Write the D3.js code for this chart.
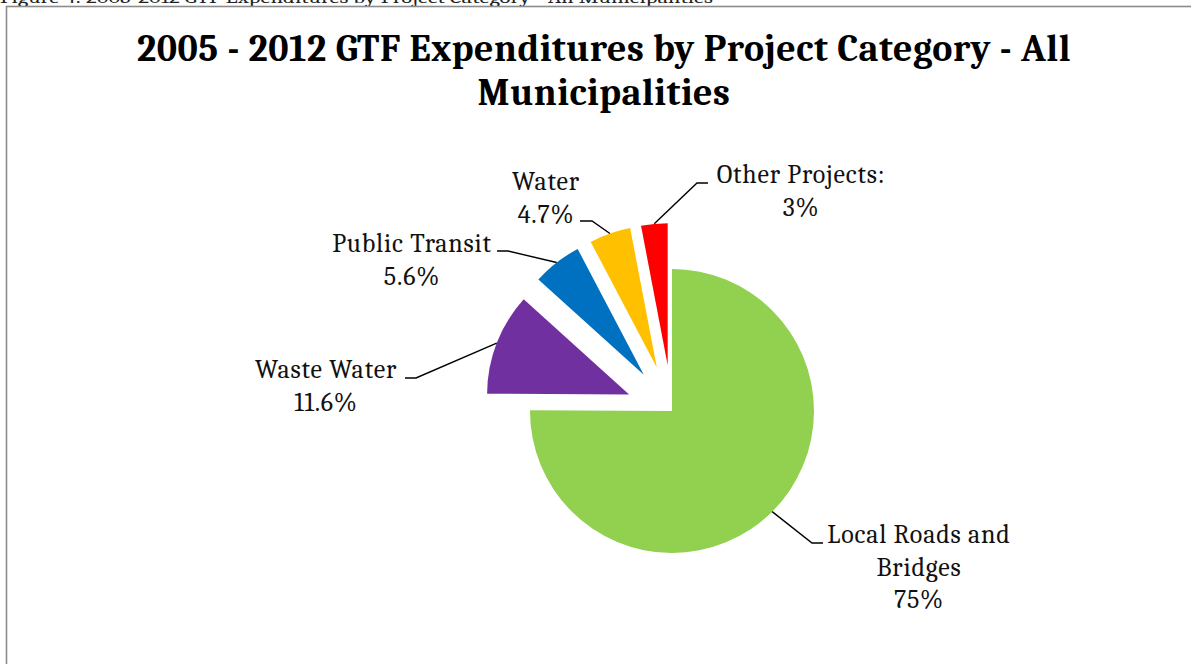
<!DOCTYPE html>
<html>
<head>
<meta charset="utf-8">
<script src="https://cdn.jsdelivr.net/npm/d3@7"></script>
<style>
  html, body { margin: 0; padding: 0; background: #fff; }
  svg { display: block; }
</style>
</head>
<body>
<svg id="chart" width="1191" height="664"></svg>
<script>
// ---- data ----
const categories = ["Local Roads and Bridges", "Waste Water", "Public Transit", "Water", "Other Projects:"];
const values = [75, 11.6, 5.6, 4.7, 3];
const valueLabels = ["75%", "11.6%", "5.6%", "4.7%", "3%"];
const colors = ["#92D050", "#7030A0", "#0070C0", "#FFC000", "#FF0000"];
const exploded = [false, true, true, true, true];
const labelLines = [["Local Roads and", "Bridges", "75%"], ["Waste Water", "11.6%"], ["Public Transit", "5.6%"], ["Water", "4.7%"], ["Other Projects:", "3%"]];
const chartTitle = ["2005 - 2012 GTF Expenditures by Project Category - All", "Municipalities"];
const caption = "Figure 4: 2005-2012 GTF Expenditures by Project Category - All Municipalities";

// ---- layout ----
const svg = d3.select("#chart");
const cx = 672, cy = 411, R = 142, explode = 46;
const serif = "Cambria, 'Liberation Serif', 'DejaVu Serif', serif";

// caption (cut off at the top, as in the source page)
svg.append("text").attr("x", 0).attr("y", 3)
  .attr("font-family", serif).attr("font-size", 17).attr("fill", "#222")
  .attr("textLength", 713).attr("lengthAdjust", "spacingAndGlyphs")
  .text(caption);

// frame
svg.append("rect").attr("x", 6.5).attr("y", 6.5).attr("width", 1200).attr("height", 700)
  .attr("fill", "#fff").attr("stroke", "#8c8c8c").attr("stroke-width", 1.6);

// title
const tt = svg.append("text").attr("text-anchor", "middle")
  .attr("font-family", serif).attr("font-weight", "bold").attr("font-size", 38)
  .attr("letter-spacing", 0.5).attr("fill", "#000");
tt.append("tspan").attr("x", 604).attr("y", 61).text(chartTitle[0]);
tt.append("tspan").attr("x", 604).attr("y", 105).text(chartTitle[1]);

// pie
const pie = d3.pie().sort(null).value(d => d)(values);
const arc = d3.arc().innerRadius(0).outerRadius(R);
const slices = pie.map((p, i) => {
  const mid = (p.startAngle + p.endAngle) / 2;
  const off = exploded[i] ? explode : 0;
  return { p, i, mid, ox: cx + off * Math.sin(mid), oy: cy - off * Math.cos(mid) };
});

svg.append("g").selectAll("path").data(slices).join("path")
  .attr("transform", d => `translate(${d.ox},${d.oy})`)
  .attr("d", d => arc(d.p))
  .attr("fill", (d) => colors[d.i]);

// label placement
const labelPos = [
  { x: 919, y: 543, hx0: 823, hx1: 812, ly: 543 },
  { x: 326, y: 378, hx0: 405, hx1: 416, ly: 378 },
  { x: 412, y: 252, hx0: 497, hx1: 508, ly: 251 },
  { x: 546, y: 190, hx0: 580, hx1: 592, ly: 221 },
  { x: 801, y: 183, hx0: 708, hx1: 697, ly: 183 }
];
const lineH = 32.5;

slices.forEach(d => {
  const lp = labelPos[d.i];
  const ex = d.ox + R * Math.sin(d.mid), ey = d.oy - R * Math.cos(d.mid);
  svg.append("path")
    .attr("d", `M${lp.hx0},${lp.ly}L${lp.hx1},${lp.ly}L${ex},${ey}`)
    .attr("fill", "none").attr("stroke", "#000").attr("stroke-width", 1.4);
  const t = svg.append("text").attr("text-anchor", "middle")
    .attr("font-family", serif).attr("font-size", 26).attr("letter-spacing", 0.8)
    .attr("fill", "#111");
  labelLines[d.i].forEach((s, k) => {
    t.append("tspan").attr("x", lp.x).attr("y", lp.y + k * lineH).text(s);
  });
});
</script>
</body>
</html>
